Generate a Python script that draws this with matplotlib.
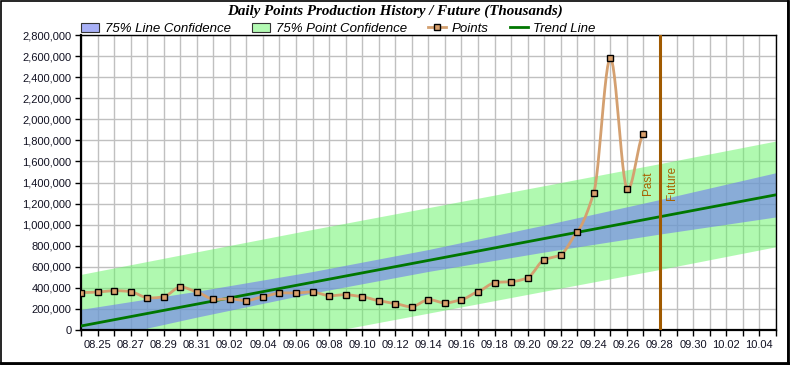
import numpy as np
import pandas as pd
import matplotlib
matplotlib.use('Agg')
import matplotlib.pyplot as plt
import matplotlib.dates as mdates
from matplotlib.patches import Patch
from matplotlib.lines import Line2D
from matplotlib.ticker import FuncFormatter

# daily points history
point_dates = pd.date_range('2011-08-24', '2011-09-27', freq='D')
points = [355000, 360000, 373000, 364000, 307000, 316000, 408000, 361000,
          291000, 297000, 278000, 316000, 351000, 351000, 361000, 326000,
          335000, 316000, 278000, 250000, 221000, 288000, 256000, 288000,
          364000, 449000, 458000, 496000, 667000, 715000, 933000, 1303000,
          2584000, 1341000, 1863000]

# trend line end points
trend_dates = pd.to_datetime(['2011-08-24', '2011-10-05'])
trend = [38000, 1283000]

# confidence bands, weekly edges
band_dates = pd.date_range('2011-08-24', '2011-10-05', freq='7D')
line_hi = [196000, 368000, 555000, 764000, 996000, 1239000, 1493000]
line_lo = [-120000, 122000, 351000, 556000, 740000, 911000, 1073000]
point_hi = [528000, 742000, 955000, 1162000, 1370000, 1580000, 1794000]
point_lo = [-452000, -255000, -47000, 160000, 368000, 575000, 790000]

split_date = pd.Timestamp('2011-09-28')
x_labels = ['08.25', '08.27', '08.29', '08.31', '09.02', '09.04', '09.06',
            '09.08', '09.10', '09.12', '09.14', '09.16', '09.18', '09.20',
            '09.22', '09.24', '09.26', '09.28', '09.30', '10.02', '10.04']

SANS = 'Liberation Sans'
GREEN_BAND = (0.39, 0.96, 0.39)
BLUE_BAND = (0.44, 0.48, 0.95)
PT_COLOR = '#D9A06C'
PT_LINE = '#D4A070'
BROWN = '#A05A00'


def smooth(x, y, tension=0.3, n=12):
    # cardinal spline through the points, just for drawing
    x = np.asarray(x, float)
    y = np.asarray(y, float)
    xs, ys = [], []
    for i in range(len(x) - 1):
        y0 = y[i - 1] if i > 0 else y[i]
        y3 = y[i + 2] if i + 2 < len(y) else y[i + 1]
        m1 = tension * (y[i + 1] - y0)
        m2 = tension * (y3 - y[i])
        t = np.linspace(0, 1, n, endpoint=False)
        h00 = 2 * t**3 - 3 * t**2 + 1
        h10 = t**3 - 2 * t**2 + t
        h01 = -2 * t**3 + 3 * t**2
        h11 = t**3 - t**2
        xs.append(x[i] + t * (x[i + 1] - x[i]))
        ys.append(h00 * y[i] + h10 * m1 + h01 * y[i + 1] + h11 * m2)
    xs.append([x[-1]])
    ys.append([y[-1]])
    return np.concatenate(xs), np.concatenate(ys)


fig = plt.figure(figsize=(7.9, 3.65), dpi=100)
ax = fig.add_axes([0.1025, 0.0959, 0.8795, 0.808])

bx = mdates.date2num(band_dates)
ax.fill_between(bx, point_lo, point_hi, color=GREEN_BAND, alpha=0.5, lw=0, zorder=1)
ax.fill_between(bx, line_lo, line_hi, color=BLUE_BAND, alpha=0.6, lw=0, zorder=2)
ax.plot(mdates.date2num(trend_dates), trend, color='#007700', lw=2, zorder=3)

px = mdates.date2num(point_dates)
sx, sy = smooth(px, points)
ax.plot(sx, sy, color=PT_LINE, lw=2, zorder=4)
ax.plot(px, points, ls='none', marker='s', ms=5, mfc=PT_COLOR, mec='black',
        mew=1, zorder=5)

ax.axvline(mdates.date2num(split_date), color=BROWN, lw=2.2, zorder=6)
ax.text(mdates.date2num(split_date) - 0.35, 1395000, 'Past', rotation=90,
        ha='right', va='center', color='#A86200', fontsize=8.5, family=SANS)
ax.text(mdates.date2num(split_date) + 0.35, 1395000, 'Future', rotation=90,
        ha='left', va='center', color='#A86200', fontsize=8.5, family=SANS)

ax.set_xlim(mdates.date2num(pd.Timestamp('2011-08-24')),
            mdates.date2num(pd.Timestamp('2011-10-05')))
ax.set_ylim(0, 2800000)
ax.set_yticks(np.arange(0, 2800001, 200000))
ax.yaxis.set_major_formatter(FuncFormatter(lambda v, p: f'{v:,.0f}'))

tick_pos = mdates.date2num(pd.to_datetime(['2011.' + s for s in x_labels],
                                          format='%Y.%m.%d'))
ax.set_xticks(tick_pos)
ax.set_xticklabels(x_labels)
ax.xaxis.set_minor_locator(mdates.DayLocator())

ax.set_axisbelow(True)
ax.grid(True, which='both', color='#C0C0C0', lw=1)
ax.tick_params(which='both', direction='out', length=4, width=1, color='black')
ax.tick_params(labelsize=8, pad=3)
for lab in ax.get_xticklabels() + ax.get_yticklabels():
    lab.set_family(SANS)
    lab.set_color('#111122')
for s in ['left', 'bottom']:
    ax.spines[s].set_linewidth(1.6)
for s in ['top', 'right']:
    ax.spines[s].set_linewidth(1.0)

handles = [
    Patch(facecolor=(0.66, 0.69, 0.97), edgecolor='#333333', lw=0.8),
    Patch(facecolor=(0.70, 0.98, 0.70), edgecolor='#333333', lw=0.8),
    Line2D([], [], color=PT_LINE, lw=2, marker='s', ms=5, mfc=PT_COLOR, mec='black'),
    Line2D([], [], color='#007700', lw=2),
]
labels = ['75% Line Confidence', '75% Point Confidence', 'Points', 'Trend Line']
leg = ax.legend(handles, labels, loc='lower left', bbox_to_anchor=(0.0, 1.0),
                ncol=4, frameon=False, borderpad=0, borderaxespad=0,
                handlelength=1.4, handleheight=0.7, handletextpad=0.4,
                columnspacing=1.6, prop={'family': SANS, 'style': 'italic', 'size': 9.5})

fig.text(0.5, 0.968, 'Daily Points Production History / Future (Thousands)',
         ha='center', va='center', family='Liberation Serif', style='italic',
         weight='bold', fontsize=10.8)

# outer frame with a heavier right/bottom edge
fig.add_artist(plt.Rectangle((0.001, 0.004), 0.996, 0.994, transform=fig.transFigure,
                             fill=False, ec='black', lw=1.2))
fig.add_artist(Line2D([0.997, 0.997], [0.004, 0.998], transform=fig.transFigure,
                      color='black', lw=2))
fig.add_artist(Line2D([0.001, 0.997], [0.005, 0.005], transform=fig.transFigure,
                      color='black', lw=2))

fig.savefig('out.png', dpi=100)
